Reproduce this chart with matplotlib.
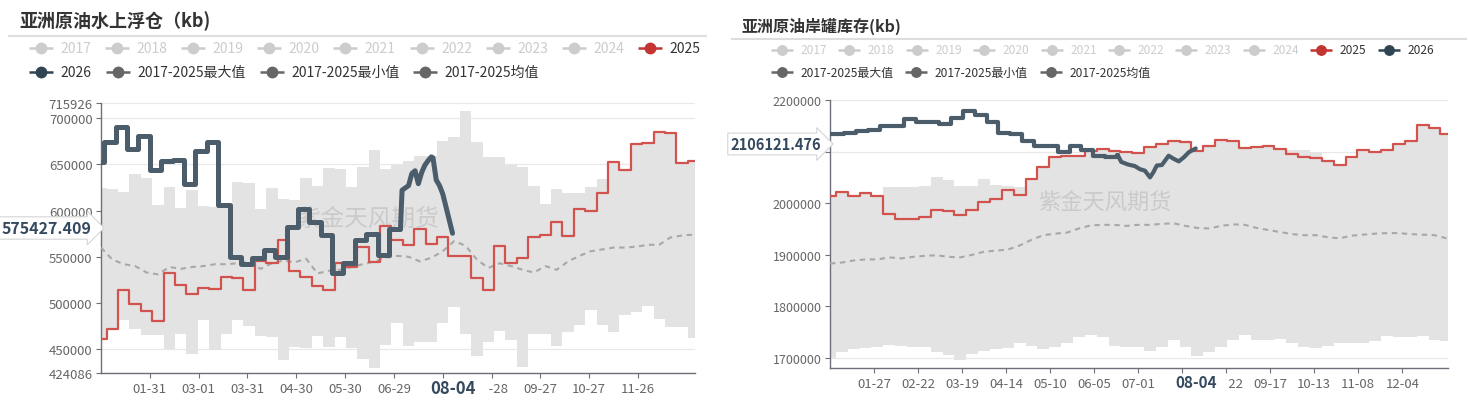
import numpy as np
import matplotlib
matplotlib.use("Agg")
import matplotlib.pyplot as plt
from matplotlib.patches import Rectangle
from datetime import date

plt.rcParams["font.family"] = ["Noto Sans CJK SC", "DejaVu Sans"]
plt.rcParams["axes.unicode_minus"] = False

# ---------------- data: 亚洲原油水上浮仓 (kb) ----------------
float_years = ["2017", "2018", "2019", "2020", "2021", "2022", "2023", "2024"]
float_week0 = 3.5          # day index of first weekly change (2025 & band)
float_2025_first = 461000
float_2025 = [472000, 514000, 499000, 491000, 481000, 532000, 520000, 510000, 516000, 515000,
              528000, 527000, 514000, 546000, 543000, 568000, 535000, 528000, 518000, 514000,
              543000, 539000, 561000, 544000, 583000, 568000, 563000, 580000, 564000, 571000,
              551000, 551000, 527000, 514000, 562000, 543000, 549000, 571000, 574000, 588000,
              573000, 602000, 600000, 619000, 652000, 644000, 672000, 673000, 685000, 684000,
              651000, 654000]
float_2026_week0 = 2
float_2026_first = 652000
float_2026 = [674000, 690000, 667000, 681000, 644000, 654000, 655000, 629000, 664000, 674000,
              606000, 550000, 542000, 549000, 557000, 550000, 582000, 602000, 588000, 574000,
              532000, 543000, 568000, 575000, 552000, 580000]
float_2026_tail_days = [184, 185, 189, 191, 193, 195, 197, 199, 201, 203, 204, 206, 208, 210, 212, 216]
float_2026_tail = [580000, 622000, 627000, 640000, 643000, 629000, 641000, 649000, 654000, 658000,
                   657000, 633000, 627000, 618000, 604000, 575427.409]
float_max = [624000, 623000, 620000, 639000, 635000, 606000, 625000, 603000, 622000, 605000,
             604000, 606000, 631000, 630000, 602000, 624000, 612000, 611000, 635000, 626000,
             646000, 645000, 625000, 647000, 665000, 645000, 649000, 654000, 659000, 659000,
             675000, 680000, 708000, 674000, 658000, 658000, 649000, 647000, 626000, 607000,
             623000, 619000, 619000, 625000, 634000, 652000, 644000, 672000, 673000, 685000,
             684000, 651000, 654000]
float_min = [461000, 472000, 482000, 472000, 466000, 466000, 450000, 467000, 445000, 482000,
             449000, 467000, 482000, 475000, 464000, 463000, 439000, 452000, 451000, 464000,
             452000, 463000, 451000, 440000, 429500, 455000, 478000, 454000, 458000, 458000,
             478000, 496000, 467000, 443000, 458000, 470000, 460000, 431000, 467000, 467000,
             454000, 469000, 476000, 492000, 476000, 469000, 487000, 490000, 497000, 483000,
             474000, 474000, 462000]
float_avg = [560000, 547000, 542000, 540000, 533000, 531000, 539000, 537000, 539000, 540000,
             542000, 542000, 543000, 545000, 537000, 543000, 546000, 544000, 548000, 532000,
             535000, 536000, 539000, 542000, 545000, 549000, 551000, 550000, 545000, 549000,
             556000, 567000, 562000, 547000, 538000, 543000, 540000, 536000, 533000, 540000,
             536000, 545000, 551000, 556000, 558000, 560000, 560000, 561000, 563000, 563000,
             571000, 573000, 574000]
float_yticks = [424086, 450000, 500000, 550000, 600000, 650000, 700000, 715926]
float_xticks = ["01-31", "03-01", "03-31", "04-30", "05-30", "06-29", "07-29", "08-28",
                "09-27", "10-27", "11-26"]
float_ylabel = "575427.409"

# ---------------- data: 亚洲原油岸罐库存 (kb) ----------------
tank_week0 = 3.5
tank_2025_first = 2014000
tank_2025 = [2022000, 2013000, 2020000, 2013000, 1979000, 1969000, 1970000, 1974000, 1987000, 1985000,
             1977000, 1987000, 2003000, 2008000, 2026000, 2016000, 2046000, 2071000, 2090000, 2091000,
             2092000, 2101000, 2105000, 2101000, 2099000, 2097000, 2108000, 2115000, 2121000, 2118000,
             2102000, 2110000, 2123000, 2120000, 2107000, 2108000, 2110000, 2105000, 2095000, 2089000,
             2088000, 2082000, 2074000, 2090000, 2104000, 2100000, 2103000, 2115000, 2121000, 2151000,
             2146000, 2135000]
tank_2026_week0 = 8.5
tank_2026_first = 2134000
tank_2026 = [2136000, 2140000, 2141000, 2150000, 2150000, 2163000, 2158000, 2158000, 2154000, 2166000,
             2179000, 2171000, 2157000, 2136000, 2135000, 2120000, 2110000, 2110000, 2100000, 2110000,
             2104000, 2092000, 2089000, 2093000]
tank_2026_tail_days = [170, 172, 176, 180, 183, 186, 189, 191, 193, 196, 200, 203, 206, 209, 212, 216]
tank_2026_tail = [2093000, 2080000, 2075000, 2072000, 2066000, 2063000, 2050000, 2060000, 2073000,
                  2074000, 2092000, 2086000, 2081000, 2089000, 2099000, 2106121.476]
tank_max = [2014000, 2022000, 2013000, 2020000, 2013000, 2032000, 2032000, 2032000, 2034000, 2051000,
            2044000, 2034000, 2034000, 2046000, 2035000, 2033000, 2032000, 2046000, 2071000, 2090000,
            2091000, 2092000, 2101000, 2105000, 2101000, 2099000, 2097000, 2108000, 2115000, 2121000,
            2118000, 2102000, 2110000, 2123000, 2120000, 2107000, 2108000, 2110000, 2105000, 2103000,
            2103000, 2099000, 2082000, 2074000, 2090000, 2104000, 2100000, 2103000, 2115000, 2121000,
            2151000, 2146000, 2135000]
tank_min = [1700000, 1712000, 1717000, 1720000, 1721000, 1725000, 1724000, 1721000, 1722000, 1712000,
            1705000, 1697000, 1707000, 1713000, 1717000, 1720000, 1729000, 1724000, 1717000, 1722000,
            1730000, 1740000, 1745000, 1740000, 1724000, 1721000, 1722000, 1714000, 1722000, 1735000,
            1721000, 1703000, 1711000, 1722000, 1735000, 1745000, 1734000, 1734000, 1737000, 1729000,
            1722000, 1720000, 1724000, 1729000, 1730000, 1729000, 1733000, 1742000, 1741000, 1740000,
            1742000, 1734000, 1733000]
tank_avg = [1883000, 1885000, 1889000, 1891000, 1891000, 1895000, 1893000, 1896000, 1898000, 1899000,
            1896000, 1895000, 1900000, 1906000, 1908000, 1910000, 1918000, 1929000, 1938000, 1941000,
            1943000, 1951000, 1957000, 1958000, 1958000, 1956000, 1958000, 1958000, 1960000, 1961000,
            1956000, 1952000, 1951000, 1956000, 1959000, 1958000, 1952000, 1948000, 1944000, 1940000,
            1938000, 1938000, 1934000, 1932000, 1937000, 1939000, 1941000, 1942000, 1942000, 1940000,
            1939000, 1938000, 1932000]
tank_yticks = [1700000, 1800000, 1900000, 2000000, 2100000, 2200000]
tank_xticks = ["01-27", "02-22", "03-19", "04-14", "05-10", "06-05", "07-01", "07-27", "08-22",
               "09-17", "10-13", "11-08", "12-04"]
tank_ylabel = "2106121.476"

pointer_day = "08-04"
stat_labels = ["2017-2025最大值", "2017-2025最小值", "2017-2025均值"]

# ---------------- style ----------------
W, H = 1468, 402
RED, RED_ICON = "#d2524e", "#c23531"
SLATE, SLATE_ICON = "#4b5c6a", "#2f4554"
GREY_ICON, OFF = "#666666", "#cccccc"
AXIS = "#6e7079"
LEFT_BOX = (101, 695, 104.3, 374.3)
RIGHT_BOX = (830, 1448, 101, 369.3)


def day_of(mmdd):
    m, d = (int(v) for v in mmdd.split("-"))
    return (date(2024, m, d) - date(2024, 1, 1)).days


def weekly_steps(first, start, weekly, end=365):
    x = np.r_[0, start + 7 * np.arange(len(weekly)), end]
    y = np.r_[first, weekly, weekly[-1]]
    return x, y


def make_axes(fig, box):
    x0, x1, yt, yb = box
    return fig.add_axes([x0 / W, 1 - yb / H, (x1 - x0) / W, (yb - yt) / H])


def draw_panel(ax, band_lo, band_hi, band_start, avg, first25, start25, s25,
               first26, start26, s26, tail_days, tail_vals, lw26):
    xb, hi = weekly_steps(band_hi[0], band_start, band_hi[1:])
    _, lo = weekly_steps(band_lo[0], band_start, band_lo[1:])
    ax.fill_between(xb, lo, hi, step="post", color="#e3e3e3", lw=0, zorder=1)
    ax.plot(7 * np.arange(len(avg)), avg, color="#a8a8a8", lw=1.5,
            ls=(0, (2.6, 2.2)), zorder=3)
    x25, y25 = weekly_steps(first25, start25, s25)
    ax.plot(x25, y25, drawstyle="steps-post", color=RED, lw=1.6, zorder=4)
    x26, y26 = weekly_steps(first26, start26, s26, end=tail_days[0])
    kw = dict(color=SLATE, lw=lw26, zorder=5, solid_joinstyle="round", solid_capstyle="round")
    ax.plot(x26, y26, drawstyle="steps-post", **kw)
    ax.plot(tail_days, tail_vals, **kw)


def style_axes(ax, yticks, ylim, xticks, hidden_y=(), hidden_x=()):
    ax.set_xlim(0, 365)
    ax.set_ylim(*ylim)
    ax.set_yticks(yticks)
    # labels sitting under an axis-pointer label are covered in the original
    ax.set_yticklabels(["" if v in hidden_y else str(v) for v in yticks])
    ax.set_xticks([day_of(t) for t in xticks])
    ax.set_xticklabels(["" if t in hidden_x else t for t in xticks])
    ax.spines["top"].set_visible(False)
    ax.spines["right"].set_visible(False)
    for s in ("left", "bottom"):
        ax.spines[s].set_color(AXIS)
        ax.spines[s].set_linewidth(1.0)
    ax.tick_params(colors=AXIS, labelcolor="#666666", length=3.6, width=0.8,
                   labelsize=9.5, pad=2.5)
    ax.grid(axis="y", color="#e8e8e8", lw=0.9)
    ax.set_axisbelow(True)
    ax.patch.set_alpha(0)


fig = plt.figure(figsize=(W / 100, H / 100), dpi=100)

axL = make_axes(fig, LEFT_BOX)
draw_panel(axL, float_min, float_max, float_week0, float_avg, float_2025_first, float_week0,
           float_2025, float_2026_first, float_2026_week0, float_2026, float_2026_tail_days,
           float_2026_tail, 3.6)
style_axes(axL, float_yticks, (float_yticks[0], float_yticks[-1]), float_xticks,
           hidden_x=("07-29",))
axL.text(0.449, 0.575, "紫金天风期货", transform=axL.transAxes, ha="center", va="center",
         fontsize=17, color="#c4c4c4", alpha=0.8, zorder=2)

axR = make_axes(fig, RIGHT_BOX)
draw_panel(axR, tank_min, tank_max, tank_week0, tank_avg, tank_2025_first, tank_week0,
           tank_2025, tank_2026_first, tank_2026_week0, tank_2026, tank_2026_tail_days,
           tank_2026_tail, 3.0)
style_axes(axR, tank_yticks, (1680000, 2200000), tank_xticks,
           hidden_y=(2100000,), hidden_x=("07-27",))
axR.tick_params(axis="y", labelsize=9)
axR.text(0.445, 0.62, "紫金天风期货", transform=axR.transAxes, ha="center", va="center",
         fontsize=16, color="#c4c4c4", alpha=0.8, zorder=2)

# overlay in pixel coordinates for titles, legends and pointer labels
ov = fig.add_axes([0, 0, 1, 1], zorder=10)
ov.set_xlim(0, W)
ov.set_ylim(H, 0)
ov.axis("off")


def legend_item(x, y, text, icon, text_color, fs, half=12, ms=7.5):
    ov.plot([x - half, x + half], [y, y], color=icon, lw=1.8, solid_capstyle="butt")
    ov.plot([x], [y], "o", color=icon, ms=ms, mec=icon)
    ov.text(x + half + 7.5, y, text, color=text_color, fontsize=fs, va="center", ha="left")


# left header
ov.text(19, 21, "亚洲原油水上浮仓（kb)", fontsize=13, fontweight="bold", color="#333333",
        va="center", ha="left")
ov.plot([9, 706], [37, 37], color="#dddddd", lw=1.5)
for i, yr in enumerate(float_years):
    legend_item(40.6 + 76.2 * i, 49, yr, OFF, OFF, 10)
legend_item(650, 49, "2025", RED_ICON, "#333333", 10)
legend_item(40.6, 73, "2026", SLATE_ICON, "#333333", 10)
for xi, lab in zip([117.7, 272, 424.6], stat_labels):
    legend_item(xi, 73, lab, GREY_ICON, "#333333", 10)

# right header
ov.text(741, 26.5, "亚洲原油岸罐库存(kb)", fontsize=11.5, fontweight="bold", color="#333333",
        va="center", ha="left")
ov.plot([732, 1466], [40, 40], color="#dddddd", lw=1.5)
for i, yr in enumerate(float_years):
    legend_item(782 + 67.4 * i, 51, yr, OFF, OFF, 8.6, half=11, ms=6.8)
legend_item(782 + 67.4 * 8, 51, "2025", RED_ICON, "#333333", 8.6, half=11, ms=6.8)
legend_item(782 + 67.4 * 9, 51, "2026", SLATE_ICON, "#333333", 8.6, half=11, ms=6.8)
for xi, lab in zip([782, 916, 1051], stat_labels):
    legend_item(xi, 73, lab, GREY_ICON, "#333333", 8.6, half=11, ms=6.8)

# axis-pointer labels
pd_ = day_of(pointer_day)
for box, ytxt, fs, reach in ((LEFT_BOX, 389, 12, 36), (RIGHT_BOX, 383.5, 11, 33)):
    x0, x1, yt, yb = box
    px = x0 + pd_ / 365 * (x1 - x0)
    ov.add_patch(Rectangle((px - 30, yb + 6), 30 + reach, 22, fc="white", ec="none"))
    ov.text(px, ytxt, pointer_day, fontsize=fs, fontweight="bold", color="#34495e",
            ha="center", va="center")

ov.text(47, 229, float_ylabel, fontsize=11.5, fontweight="bold", color="#34495e",
        ha="center", va="center",
        bbox=dict(boxstyle="rarrow,pad=0.2", fc="white", ec="#d5d5d5", lw=0.8))
ov.text(776, 145, tank_ylabel, fontsize=10.5, fontweight="bold", color="#34495e",
        ha="center", va="center",
        bbox=dict(boxstyle="rarrow,pad=0.2", fc="white", ec="#d5d5d5", lw=0.8))

fig.savefig("out.png", dpi=100)
